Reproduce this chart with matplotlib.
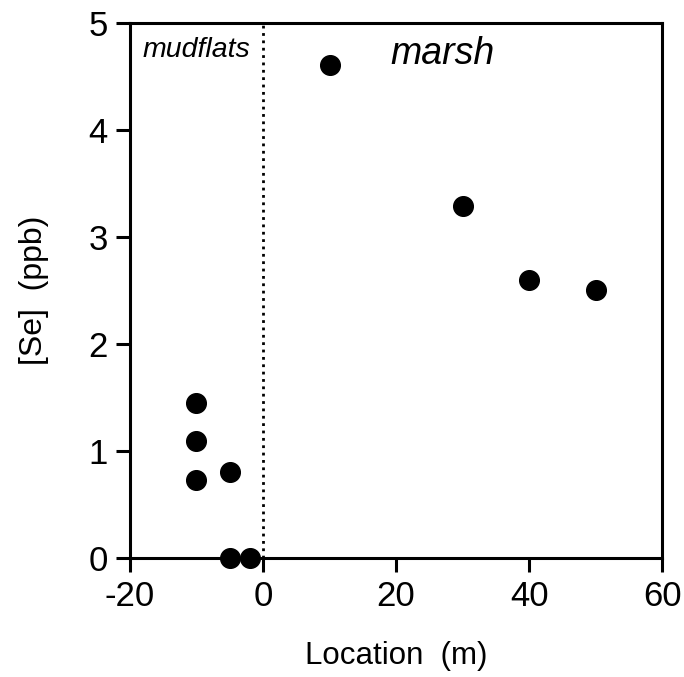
import numpy as np
import matplotlib.pyplot as plt

plt.rcParams['font.family'] = ['Liberation Sans', 'DejaVu Sans']

# Se concentration by location along the transect
location = [-10, -10, -10, -5, -5, -2, 10, 30, 40, 50]
se_ppb = [1.45, 1.09, 0.73, 0.80, 0.0, 0.0, 4.61, 3.29, 2.60, 2.50]
xticks = [-20, 0, 20, 40, 60]
yticks = [0, 1, 2, 3, 4, 5]

fig = plt.figure(figsize=(6.84, 6.77), dpi=100)
ax = fig.add_axes([0.190, 0.176, 0.778, 0.790])

ax.scatter(location, se_ppb, s=200, color='black', zorder=3, clip_on=False)
ax.plot([0, 0], [0, 5], linestyle=':', color='black', linewidth=2)

ax.set_xlim(-20, 60)
ax.set_ylim(0, 5)
ax.set_xticks(xticks)
ax.set_yticks(yticks)
ax.set_xticklabels([str(t) for t in xticks])
ax.tick_params(direction='out', length=10, width=2.2, labelsize=25, pad=6)
for sp in ax.spines.values():
    sp.set_linewidth(2.2)

ax.set_xlabel('Location  (m)', fontsize=22.5, labelpad=20)
ax.set_ylabel('[Se]  (ppb)', fontsize=23, labelpad=28)

ax.text(-10, 4.75, 'mudflats', style='italic', fontsize=20.5, ha='center', va='center')
ax.text(27, 4.71, 'marsh', style='italic', fontsize=27, ha='center', va='center')

fig.savefig('out.png', dpi=100)
